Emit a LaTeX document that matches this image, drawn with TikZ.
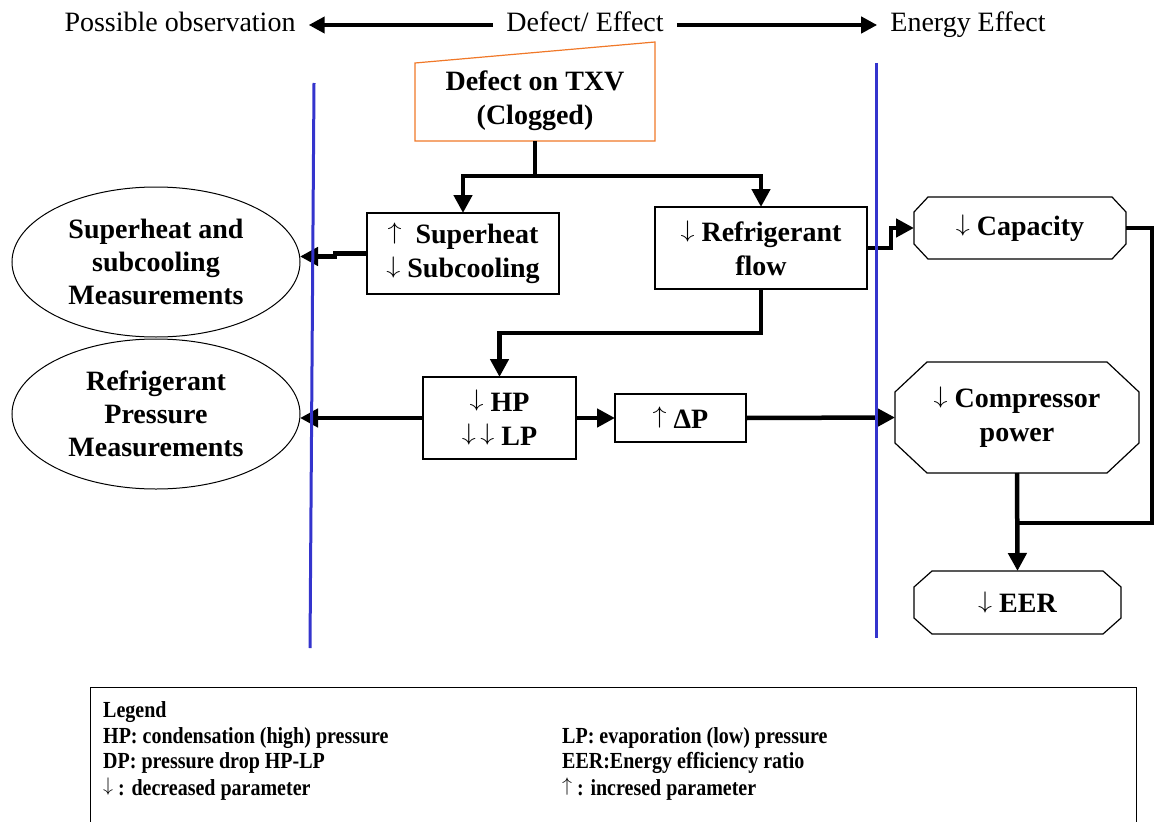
\documentclass[tikz,border=0pt]{standalone}
\usepackage{fontspec}
\usepackage{graphicx}
\setmainfont{Liberation Serif}
\usetikzlibrary{arrows.meta,shapes.geometric}

\newcommand{\nodefont}{\fontsize{28}{34}\selectfont\bfseries}
\newcommand{\ellfont}{\fontsize{28}{33}\selectfont\bfseries}
\newcommand{\headfont}{\fontsize{28}{32}\selectfont}
\newcommand{\legfont}{\fontsize{20}{24}\selectfont\bfseries}

% thin, tall up/down arrows for the parameter trends
\newcommand{\dn}{\raisebox{0.15em}{\resizebox*{0.5em}{0.76em}{$\downarrow$}}}
\newcommand{\up}{\raisebox{0.15em}{\resizebox*{0.5em}{0.76em}{$\uparrow$}}}
% condensed-looking legend lines
\newcommand{\legline}[1]{\scalebox{1}[1.15]{#1}}

% chamfered (octagonal) frame around a plain node
\newcommand{\octframe}[3]{%
  \draw[boxline] ([xshift=#2]#1.north west) -- ([xshift=-#2]#1.north east)
    -- ([yshift=-#3]#1.north east) -- ([yshift=#3]#1.south east)
    -- ([xshift=-#2]#1.south east) -- ([xshift=#2]#1.south west)
    -- ([yshift=#3]#1.south west) -- ([yshift=-#3]#1.north west) -- cycle;}

\definecolor{divider}{RGB}{52,52,205}
\definecolor{defectorange}{RGB}{240,120,40}

\begin{document}
\begin{tikzpicture}[x=1pt,y=-1pt,
  flow/.style={line width=4.5pt,-{Triangle[length=18pt,width=18pt]}},
  headarrow/.style={line width=4pt,-{Triangle[length=16pt,width=16pt]}},
  link/.style={line width=4.5pt},
  boxline/.style={line width=1.2pt},
  box/.style={draw,boxline,rectangle,inner sep=0pt,outer sep=0pt,align=center,font=\nodefont},
  plain/.style={rectangle,inner sep=0pt,outer sep=0pt,align=center,font=\nodefont},
  meas/.style={draw,line width=1pt,ellipse,inner sep=0pt,outer sep=0pt,align=center,font=\ellfont,
    minimum width=288pt,minimum height=150pt},
  head/.style={inner xsep=13pt,inner ysep=0pt,font=\headfont,text height=20pt,text depth=7pt},
  legtext/.style={anchor=west,inner sep=0pt,font=\legfont},
  divline/.style={draw=divider,line width=3pt}
]
\useasboundingbox (0,0) rectangle (1155,821);

% header
\node[head] (obs) at (180,25) {Possible observation};
\node[head] (defeff) at (585,25) {Defect/ Effect};
\node[head] (energy) at (968,25) {Energy Effect};
\draw[headarrow] (defeff.west) -- (obs.east);
\draw[headarrow] (defeff.east) -- (energy.west);

% defect
\node[plain,minimum width=240pt,minimum height=80pt] (defect) at (535,101)
  {Defect on TXV\\(Clogged)};
\draw[draw=defectorange,line width=1.2pt] (defect.south west) -- (defect.south east)
  -- ([yshift=19pt]defect.north east) -- ([yshift=-2pt]defect.north west) -- cycle;

% effect boxes
\node[box,minimum width=192pt,minimum height=81pt] (sh) at (463,253.5)
  {\up\ \ Superheat\\\dn\ Subcooling};
\node[box,minimum width=212pt,minimum height=82pt] (rf) at (761,248)
  {\dn\ Refrigerant\\flow};
\node[box,minimum width=153pt,minimum height=82pt] (hp) at (499.5,418)
  {\dn\ HP\\\dn\,\dn\ LP};
\node[box,minimum width=131pt,minimum height=48pt] (dp) at (680.5,418)
  {\up\ ΔP};

% energy effects
\node[plain,minimum width=212pt,minimum height=62pt] (cap) at (1020,228) {\dn\ Capacity};
\octframe{cap}{14pt}{15pt}
\node[plain,minimum width=244pt,minimum height=111pt] (comp) at (1017,417.5)
  {\dn\ Compressor\\power};
\octframe{comp}{32pt}{30pt}
\node[plain,minimum width=207pt,minimum height=63pt] (eer) at (1017.5,602.5) {\dn\ EER};
\octframe{eer}{18pt}{16pt}

% observations
\node[meas] (ell1) at (156,262) {Superheat and\\subcooling\\Measurements};
\node[meas] (ell2) at (156,414) {Refrigerant\\Pressure\\Measurements};

% connectors
\draw[link] (defect.south) -- ++(0,35) coordinate (split);
\draw[flow] (split) -| (sh.north);
\draw[flow] (split) -| (rf.north);
\draw[flow] (sh.west) -- ++(-32,0) -- ++(0,3) -- ++(-35,0);
\draw[flow] (rf.east) -- ++(24,0) |- (cap.west);
\draw[flow] (rf.south) -- ++(0,44) -| (hp.north);
\draw[flow] (hp.west) -- (hp.west -| ell2.east);
\draw[flow] (hp.east) -- (dp.west);
\draw[flow] (dp.east) -- (comp.west);
\coordinate (merge) at (1017,523);
\draw[link] (cap.east) -- ++(26,0) |- (merge);
\draw[flow] (comp.south) -- (eer.north);

% dividing lines
\draw[divline] (314,83) -- (310,648);
\draw[divline] (876,63) -- (876,638);

% legend
\node[draw,line width=1pt,anchor=north west,inner sep=0pt,minimum width=1046pt,minimum height=136pt]
  (legendbox) at (90,687) {};
\node[legtext] (lgtitle) at (103,712) {\legline{Legend}};
\node[legtext] (lghp) at (103,738) {\legline{HP: condensation (high) pressure}};
\node[legtext] (lgdp) at (103,763) {\legline{DP: pressure drop HP-LP}};
\node[legtext] (lgdown) at (103,789) {\legline{\dn\ : decreased parameter}};
\node[legtext] (lglp) at (562,738) {\legline{LP: evaporation (low) pressure}};
\node[legtext] (lgeer) at (562,763) {\legline{EER:Energy efficiency ratio}};
\node[legtext] (lgup) at (562,789) {\legline{\up\ : incresed parameter}};
\end{tikzpicture}
\end{document}
